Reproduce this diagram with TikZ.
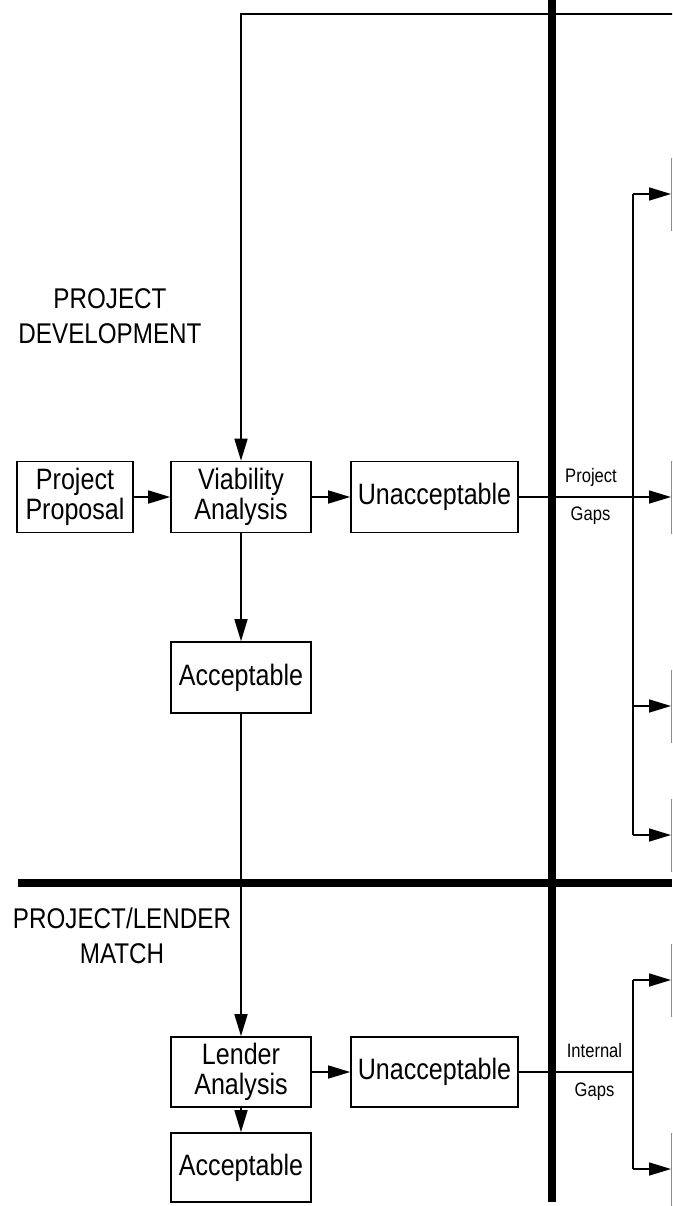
\documentclass[tikz,border=0pt]{standalone}
\usepackage{fontspec}
\setmainfont[FakeStretch=0.85]{Liberation Sans}
\usetikzlibrary{arrows.meta}
\tikzset{
	box/.style={draw, line width=1.6pt, minimum width=140pt, minimum height=71pt, inner sep=0pt, align=center, font=\fontsize{29.5}{30}\selectfont},
	gapbox/.style={draw=black!45, line width=0.8pt, minimum width=80pt, minimum height=72pt, anchor=west},
	wire/.style={line width=1.6pt},
	arr/.style={line width=1.6pt, -{Triangle[length=22pt,width=13pt]}},
	bar/.style={line width=8pt},
	head/.style={align=center, font=\fontsize{28.5}{35}\selectfont},
	gaplbl/.style={font=\fontsize{19.5}{20}\selectfont}
}

\begin{document}
\begin{tikzpicture}[x=1pt, y=-1pt]
			%%%%% START %%%%%
			\useasboundingbox (0, 0) rectangle (672, 1206);
			\clip (0, 0) rectangle (672, 1206);
			
			% section titles
			\node[head] (devel) at (110, 316) {PROJECT\\DEVELOPMENT};
			\node[head] (match) at (122, 935.5) {PROJECT/LENDER\\MATCH};
			
			% project development
			\node[box, minimum width=116pt] (prop) at (75, 497) {Project\\Proposal};
			\node[box] (viab) at (241, 497) {Viability\\Analysis};
			\node[box, minimum width=167pt] (unacc) at (434.5, 497) {Unacceptable};
			\node[box] (acc) at (241, 677.5) {Acceptable};
			
			% project/lender match
			\node[box, minimum height=70pt] (lender) at (241, 1072) {Lender\\Analysis};
			\node[box, minimum width=167pt, minimum height=70pt] (lunacc) at (434.5, 1072) {Unacceptable};
			\node[box, minimum height=69pt] (lacc) at (241, 1167.5) {Acceptable};
			
			% gap labels
			\node[gaplbl] (pgtop) at (591, 477) {Project};
			\node[gaplbl] (pgbot) at (590.5, 516) {Gaps};
			\node[gaplbl] (igtop) at (594.5, 1051) {Internal};
			\node[gaplbl] (igbot) at (594.5, 1092) {Gaps};
			
			% boxes beyond the right edge
			\node[gapbox] (pg1) at (671, 194) {};
			\node[gapbox] (pg2) at (671, 497) {};
			\node[gapbox] (pg3) at (671, 706) {};
			\node[gapbox] (pg4) at (671, 835) {};
			\node[gapbox] (ig1) at (671, 980) {};
			\node[gapbox] (ig2) at (671, 1169) {};
			
			\coordinate (bus) at (633, 0);
			\coordinate (back) at (680, 14);
			
			% connectors
			\draw[arr] (back) -| (viab.north);
			\draw[arr] (prop) -- (viab);
			\draw[arr] (viab) -- (unacc);
			\draw[arr] (viab) -- (acc);
			\draw[arr] (acc) -- (lender);
			\draw[arr] (lender) -- (lunacc);
			\draw[arr] (lender) -- (lacc);
			
			\draw[arr] (unacc) -- (pg2);
			\draw[wire] (pg1.west -| bus) -- (pg4.west -| bus);
			\foreach \g in {pg1, pg3, pg4}
				\draw[arr] (\g.west -| bus) -- (\g.west);
			
			\draw[wire] (lunacc) -- (lunacc -| bus);
			\draw[wire] (ig1.west -| bus) -- (ig2.west -| bus);
			\foreach \g in {ig1, ig2}
				\draw[arr] (\g.west -| bus) -- (\g.west);
			
			% dividing bars
			\draw[bar] (552, 0) -- (552, 1202);
			\draw[bar] (18, 883) -- (672, 883);
			%%%%% END %%%%%
\end{tikzpicture}
\end{document}
